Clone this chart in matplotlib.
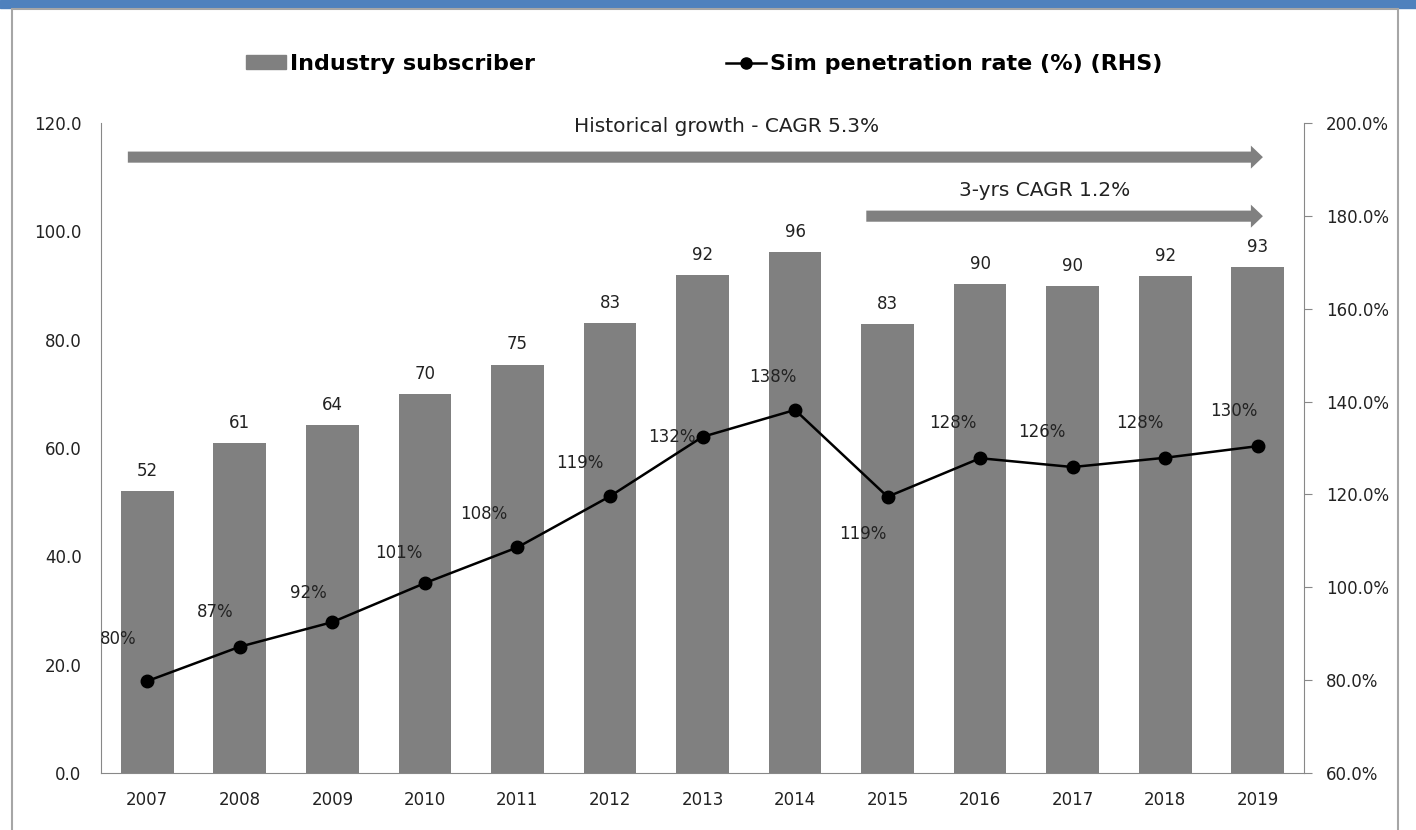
import matplotlib.pyplot as plt
from matplotlib.patches import Rectangle, FancyArrow
from matplotlib.lines import Line2D
import numpy as np

years = ['2007', '2008', '2009', '2010', '2011', '2012', '2013',
         '2014', '2015', '2016', '2017', '2018', '2019']
subscribers = [52.1, 60.9, 64.3, 70.0, 75.4, 83.1, 91.9, 96.1, 82.9, 90.2, 89.9, 91.8, 93.4]
sub_labels = ['52', '61', '64', '70', '75', '83', '92', '96', '83', '90', '90', '92', '93']
penetration = [79.8, 87.2, 92.5, 100.9, 108.6, 119.6, 132.4, 138.2, 119.5, 127.8, 125.9, 127.9, 130.4]
pen_labels = ['80%', '87%', '92%', '101%', '108%', '119%', '132%',
              '138%', '119%', '128%', '126%', '128%', '130%']
# label offsets for the line labels, in points
pen_offsets = [(-21, 30), (-18, 25), (-17, 21), (-19, 22), (-24, 24), (-22, 24), (-22, 0),
               (-16, 24), (-18, -27), (-20, 25), (-22, 25), (-18, 25), (-17, 25)]

bar_col = '#808080'
fs = 12

fig = plt.figure(figsize=(14.16, 8.3), dpi=100)

# page frame
fig.patches.append(Rectangle((0, 1 - 8 / 830), 1, 8 / 830, transform=fig.transFigure,
                             color='#4f81bd', zorder=0))
fig.patches.append(Rectangle((12 / 1416, -0.05), (1398 - 12) / 1416, 1.05 - 9 / 830,
                             transform=fig.transFigure, fill=False, ec='#a6a6a6', lw=1.5, zorder=0))

ax = fig.add_axes([101 / 1416, 1 - 773 / 830, (1304 - 101) / 1416, (773 - 123) / 830])
ax2 = ax.twinx()

x = np.arange(len(years))
ax.bar(x, subscribers, width=0.57, color=bar_col, zorder=2)
for i in range(len(x)):
    ax.annotate(sub_labels[i], (x[i], subscribers[i]), xytext=(0, 8), textcoords='offset points',
                ha='center', va='bottom', fontsize=fs, color='#222222')

ax.set_ylim(0, 120)
ax.set_yticks([0, 20, 40, 60, 80, 100, 120])
ax.set_yticklabels(['%.1f' % v for v in [0, 20, 40, 60, 80, 100, 120]])
ax.set_xlim(-0.5, len(years) - 0.5)
ax.set_xticks(x)
ax.set_xticklabels(years)
ax.tick_params(axis='both', length=0, labelsize=fs, colors='#222222')
ax.tick_params(axis='x', pad=13)
ax.tick_params(axis='y', pad=14)

ax2.plot(x, penetration, color='black', lw=1.8, marker='o', ms=9, zorder=3)
for i in range(len(x)):
    ax2.annotate(pen_labels[i], (x[i], penetration[i]), xytext=pen_offsets[i],
                 textcoords='offset points', ha='center', va='center', fontsize=fs, color='#222222')
ax2.set_ylim(60, 200)
ax2.set_yticks(np.arange(60, 201, 20))
ax2.set_yticklabels(['%.1f%%' % v for v in np.arange(60, 201, 20)])
ax2.tick_params(axis='y', direction='out', length=6, color='#888888', labelsize=fs,
                labelcolor='#222222', pad=10)

for a in (ax, ax2):
    a.spines['top'].set_visible(False)
    a.spines['left'].set_color('#888888')
    a.spines['right'].set_color('#888888')
    a.spines['bottom'].set_color('#888888')
ax.spines['right'].set_visible(False)
ax2.spines['left'].set_visible(False)
ax2.spines['bottom'].set_visible(False)
ax.set_zorder(ax2.get_zorder() - 1)
ax2.patch.set_visible(False)

# growth arrows
ax.add_patch(FancyArrow(-0.21, 113.7, 12.266, 0, width=2.05, head_width=4.25, head_length=0.13,
                        length_includes_head=True, color=bar_col, lw=0, clip_on=False))
ax.text(6.265, 119.4, 'Historical growth - CAGR 5.3%', ha='center', va='center', fontsize=14.5,
        color='#222222')
ax.add_patch(FancyArrow(7.77, 102.8, 4.286, 0, width=2.05, head_width=4.25, head_length=0.13,
                        length_includes_head=True, color=bar_col, lw=0, clip_on=False))
ax.text(9.70, 107.6, '3-yrs CAGR 1.2%', ha='center', va='center', fontsize=14.5,
        color='#222222')

# legend
handles = [Rectangle((0, 0), 1, 1, color=bar_col),
           Line2D([], [], color='black', lw=1.8, marker='o', ms=8)]
fig.legend(handles, ['Industry subscriber', 'Sim penetration rate (%) (RHS)'],
           loc='center', bbox_to_anchor=(0.4975, 1 - 64 / 830), ncol=2, frameon=False,
           prop={'weight': 'bold', 'size': 16}, handlelength=1.8, handleheight=0.6,
           handletextpad=0.18, columnspacing=8.6)

fig.savefig('out.png', dpi=100)
